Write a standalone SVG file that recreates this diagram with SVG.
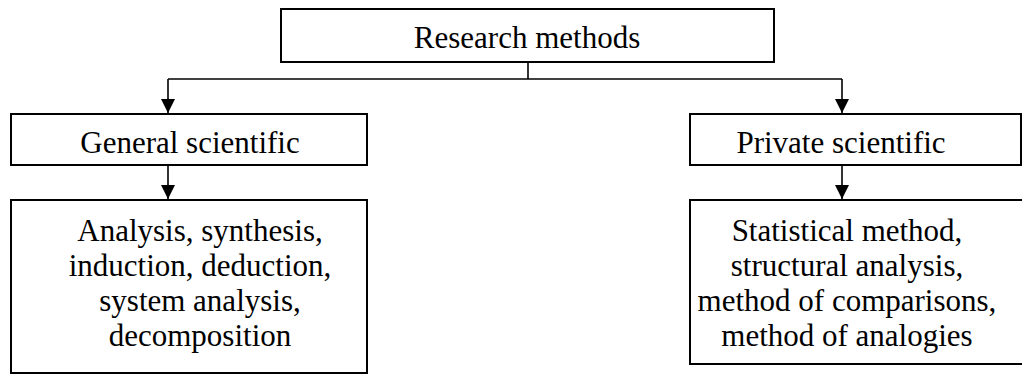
<svg xmlns="http://www.w3.org/2000/svg" width="1022" height="374" viewBox="0 0 1022 374">
  <style>
    .box { fill: #ffffff; stroke: #000000; stroke-width: 2; }
    .lbl { font-family: "Liberation Serif", "Times New Roman", serif; font-size: 31px; fill: #000000; text-anchor: middle; }
    .conn { fill: none; stroke: #000000; stroke-width: 1.6; }
  </style>
  <defs>
    <marker id="arrow" viewBox="0 0 14 14" refX="14" refY="7" markerWidth="14" markerHeight="14" markerUnits="userSpaceOnUse" orient="auto">
      <path d="M0,0 L14,7 L0,14 Z" fill="#000000"/>
    </marker>
  </defs>
  <rect width="1022" height="374" fill="#ffffff"/>
  <g id="connectors">
    <path class="conn" d="M528,62 V79"/>
    <path class="conn" d="M168,79 H842"/>
    <path class="conn" d="M168,79 V113" marker-end="url(#arrow)"/>
    <path class="conn" d="M842,79 V113" marker-end="url(#arrow)"/>
    <path class="conn" d="M168,165 V199" marker-end="url(#arrow)"/>
    <path class="conn" d="M842,165 V199" marker-end="url(#arrow)"/>
  </g>
  <g id="research-methods">
    <rect class="box" x="281" y="9" width="493" height="53"/>
    <text class="lbl" x="527" y="48">Research methods</text>
  </g>
  <g id="general-scientific">
    <rect class="box" x="11" y="114" width="356" height="51"/>
    <text class="lbl" x="190" y="153">General scientific</text>
  </g>
  <g id="general-methods">
    <rect class="box" x="11" y="200" width="356" height="173"/>
    <text class="lbl" x="200" y="241">Analysis, synthesis,</text>
    <text class="lbl" x="200" y="276">induction, deduction,</text>
    <text class="lbl" x="200" y="311">system analysis,</text>
    <text class="lbl" x="200" y="346">decomposition</text>
  </g>
  <g id="private-scientific">
    <rect class="box" x="690" y="114" width="331" height="51"/>
    <text class="lbl" x="841" y="153">Private scientific</text>
  </g>
  <g id="private-methods">
    <rect class="box" x="690" y="200" width="346" height="164"/>
    <text class="lbl" x="847" y="241">Statistical method,</text>
    <text class="lbl" x="847" y="276">structural analysis,</text>
    <text class="lbl" x="847" y="311">method of comparisons,</text>
    <text class="lbl" x="847" y="346">method of analogies</text>
  </g>
</svg>
